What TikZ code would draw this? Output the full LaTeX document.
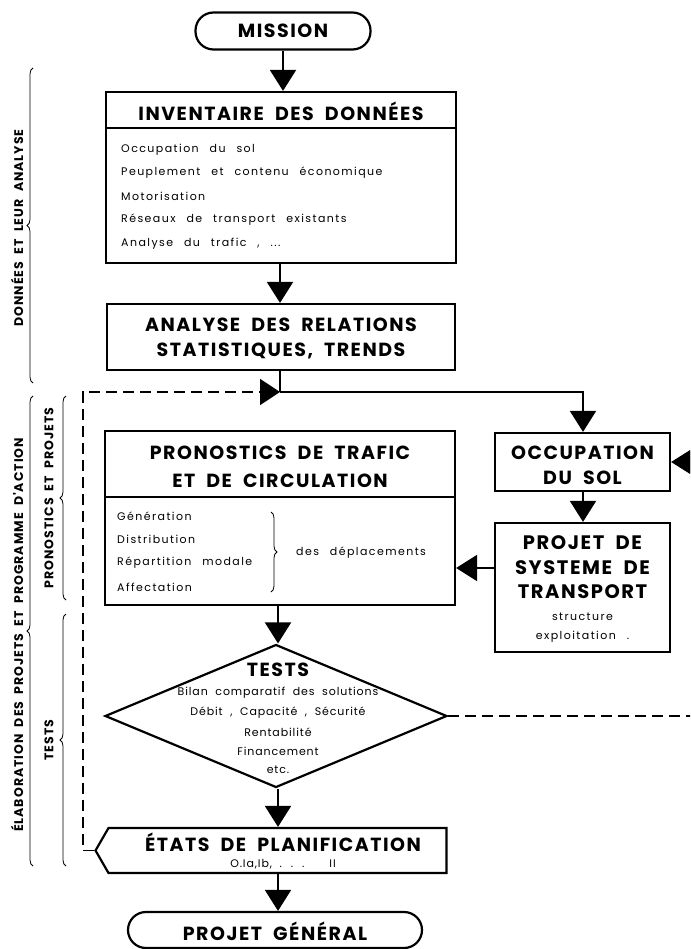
\documentclass[tikz,border=0pt]{standalone}
\usepackage{fontspec}
\setmainfont{Poppins}
\newfontfamily\hdfam[LetterSpace=8,WordSpace=2.2]{Poppins}
\newfontfamily\bdfam[LetterSpace=13,WordSpace=2.5]{Poppins}
\newfontfamily\tsfam[LetterSpace=8,WordSpace=1.8]{Poppins}
\newfontfamily\lbfam[LetterSpace=8,WordSpace=2]{Poppins}
\newcommand\HDf{\hdfam\bfseries\fontsize{19}{22}\selectfont}
\newcommand\PJf{\hdfam\bfseries\fontsize{19.5}{22}\selectfont}
\newcommand\BDf{\bdfam\fontsize{11}{13}\selectfont}
\newcommand\TSf{\tsfam\fontsize{11}{13}\selectfont}
\newcommand\LBf{\lbfam\bfseries\fontsize{12.5}{15}\selectfont}
\usetikzlibrary{arrows.meta,shapes.geometric,shapes.symbols,decorations.pathreplacing,calc}
\begin{document}
\begin{tikzpicture}[x=1pt,y=-1pt,
  box/.style={draw,line width=2.2pt,inner sep=0pt},
  hd/.style={font=\HDf,inner sep=0pt},
  pj/.style={font=\PJf,inner sep=0pt},
  bd/.style={font=\BDf,inner sep=0pt,anchor=west},
  bdc/.style={font=\BDf,inner sep=0pt},
  ts/.style={font=\TSf,inner sep=0pt},
  lb/.style={font=\LBf,inner sep=0pt,rotate=90},
  conn/.style={line width=2pt},
  arr/.style={line width=2pt,-{Triangle[width=26pt,length=21pt]}},
  darr/.style={line width=1.8pt,dash pattern=on 11pt off 6pt,-{Triangle[width=26pt,length=20pt]}},
  dline/.style={line width=1.8pt,dash pattern=on 11pt off 6pt},
  brc/.style={line width=0.8pt,decorate,decoration={brace,amplitude=6pt}}]
\clip (0,0) rectangle (690,949);
\fill[white] (0,0) rectangle (690,949);

% MISSION
\node[box,rounded corners=18pt,minimum width=175pt,minimum height=37pt] (mission) at (283,31) {};
\node[hd] (missiont) at (283,31) {MISSION};

% INVENTAIRE
\node[box,minimum width=350pt,minimum height=171pt] (inv) at (281,177.5) {};
\draw[line width=1.8pt] (inv.west |- 0,128) coordinate (invsl) -- (inv.east |- 0,128) coordinate (invsr);
\node[hd] (invt) at (281,111) {INVENTAIRE DES DONNÉES};
\node[bd] (i1) at (121,150) {Occupation du sol};
\node[bd] (i2) at (121,173) {Peuplement et contenu économique};
\node[bd] (i3) at (121,196) {Motorisation};
\node[bd] (i4) at (121,220) {Réseaux de transport existants};
\node[bd] (i5) at (121,244) {Analyse du trafic , ...};

% ANALYSE
\node[box,minimum width=348pt,minimum height=66pt] (ana) at (281,337) {};
\node[hd] (ana1) at (281,325) {ANALYSE DES RELATIONS};
\node[hd] (ana2) at (281,351) {STATISTIQUES, TRENDS};

% PRONOSTICS
\node[box,minimum width=350pt,minimum height=174pt] (pron) at (280,518) {};
\draw[line width=1.8pt] (pron.west |- 0,497) coordinate (prsl) -- (pron.east |- 0,497) coordinate (prsr);
\node[hd] (pr1) at (280,453) {PRONOSTICS DE TRAFIC};
\node[hd] (pr2) at (280,481) {ET DE CIRCULATION};
\node[bd] (p1) at (117,516) {Génération};
\node[bd] (p2) at (117,539) {Distribution};
\node[bd] (p3) at (117,563) {Répartition modale};
\node[bd] (p4) at (117,587) {Affectation};
\draw[brc] (271,512) coordinate (pb1) -- (271,592) coordinate (pb2);
\node[bd] (dep) at (296,553) {des déplacements};

% OCCUPATION DU SOL
\node[box,minimum width=175pt,minimum height=58pt] (occ) at (582.5,462) {};
\node[hd] (oc1) at (582.5,453) {OCCUPATION};
\node[hd] (oc2) at (582.5,478) {DU SOL};

% PROJET DE SYSTEME DE TRANSPORT
\node[box,minimum width=175pt,minimum height=129pt] (proj) at (582.5,587.5) {};
\node[pj] (pj1) at (582.5,543) {PROJET DE};
\node[pj] (pj2) at (582.5,568) {SYSTEME DE};
\node[pj] (pj3) at (582.5,592) {TRANSPORT};
\node[bdc] (pj4) at (582.5,617) {structure};
\node[bdc] (pj5) at (582.5,637) {exploitation .};

% TESTS diamond
\node[draw,diamond,line width=2.2pt,inner sep=0pt,minimum width=342pt,minimum height=143pt] (tests) at (276,716) {};
\node[hd] (tt) at (278,670) {TESTS};
\node[ts] (t1) at (278,693) {Bilan comparatif des solutions};
\node[ts] (t2) at (278,713) {Débit , Capacité , Sécurité};
\node[ts] (t3) at (278,732) {Rentabilité};
\node[ts] (t4) at (278,751) {Financement};
\node[ts] (t5) at (278,770) {etc.};

% ETATS DE PLANIFICATION
\node[draw,signal,signal to=west,signal pointer angle=120,line width=2.2pt,inner sep=0pt,minimum width=351pt,minimum height=45pt] (plan) at (277.5,850.5) {};
\node[hd] (pl1) at (283,842) {ÉTATS DE PLANIFICATION};
\node[ts] (pl2) at (283,864) {O.Ia,Ib, . . .\hspace{25pt}II};

% PROJET GENERAL
\node[box,rounded corners=18pt,minimum width=294pt,minimum height=36pt] (gen) at (275,930) {};
\node[hd] (gent) at (275,931) {PROJET GÉNÉRAL};

% connectors
\coordinate (j) at (280,392);
\draw[arr] (mission.south) -- (inv.north -| mission.south);
\draw[arr] (inv.south -| j) -- (ana.north -| j);
\draw[conn] (ana.south -| j) -- (j);
\draw[arr] (j) -| (occ.north -| 583,0);
\draw[arr] (occ.south -| 583,0) -- (proj.north -| 583,0);
\coordinate (pa) at (495,568);
\draw[arr] (pa) -- (pa -| pron.east);
\draw[arr] (pron.south -| 278,0) -- (tests.north -| 278,0);
\draw[arr] (tests.south -| 278,0) -- (plan.north -| 278,0);
\draw[arr] (plan.south -| 278,0) -- (gen.north -| 278,0);
\coordinate (dl) at (83,850.5);
\draw[darr] (plan.west) -- (dl) |- (j);
\coordinate (rout) at (700,716);
\draw[dline] (tests.east) -- (rout);
\coordinate (rin) at (720,462);
\draw[arr] (rin) -- (occ.east);

% braces
\draw[brc] (33,383) coordinate (b1b) -- (33,68) coordinate (b1t);
\node[lb] (l1) at (17,228) {DONNÉES ET LEUR ANALYSE};
\draw[brc] (33,866) coordinate (b2b) -- (33,396) coordinate (b2t);
\node[lb] (l2) at (17,635) {ÉLABORATION DES PROJETS ET PROGRAMME D'ACTION};
\draw[brc] (66,600) coordinate (b3b) -- (66,396) coordinate (b3t);
\node[lb] (l3) at (49,498) {PRONOSTICS ET PROJETS};
\draw[brc] (66,866) coordinate (b4b) -- (66,614) coordinate (b4t);
\node[lb] (l4) at (49,740) {TESTS};
\end{tikzpicture}
\end{document}
